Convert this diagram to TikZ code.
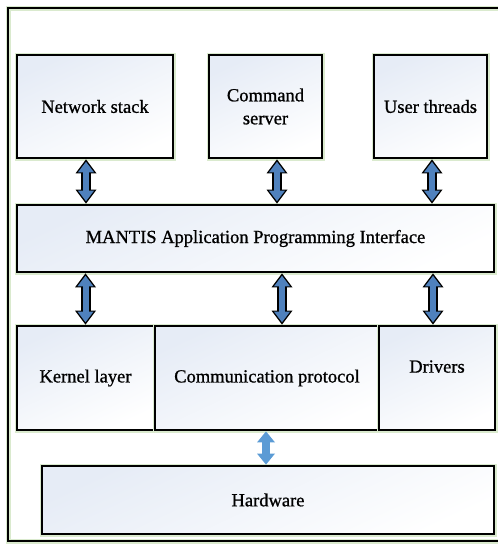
\documentclass[tikz,border=0pt]{standalone}
\usepackage{fontspec}
\setmainfont{Liberation Serif}
\newfontfamily\boxfont{Liberation Serif}[FakeBold=0.9]
\usetikzlibrary{arrows.meta}
\definecolor{boxtop}{RGB}{230,236,246}
\definecolor{arrowblue}{RGB}{79,129,189}
\definecolor{hwblue}{RGB}{91,155,213}
\definecolor{glow}{RGB}{218,234,206}
\begin{document}
\begin{tikzpicture}[x=1pt,y=-1pt,
    layer/.style={draw=black,line width=2.8pt,top color=boxtop,bottom color=white,shading angle=25,
        preaction={draw=glow,line width=5pt},inner sep=0pt,align=center,
        font=\boxfont\fontsize{18.5}{23}\selectfont},
    linkout/.style={draw=black,line width=10pt,
        {Triangle[width=21pt,length=14pt,line width=0pt]}-{Triangle[width=21pt,length=14pt,line width=0pt]}},
    linkin/.style={draw=arrowblue,line width=6pt,shorten <=2.4pt,shorten >=2.4pt,
        {Triangle[width=16pt,length=10.5pt,line width=0pt]}-{Triangle[width=16pt,length=10.5pt,line width=0pt]}},
    hwlink/.style={draw=hwblue,line width=8pt,
        {Triangle[width=18pt,length=11pt,line width=0pt]}-{Triangle[width=18pt,length=11pt,line width=0pt]}}]
            \useasboundingbox (0,0) rectangle (498,544);
            \clip (0,0) rectangle (498,544);
            \draw[glow,line width=5pt] (8,8) rectangle (520,541);
            \draw[line width=2.8pt] (8,8) rectangle (520,541);

            \node[layer,minimum width=156,minimum height=103] (ns) at (95,106.5) {Network stack};
            \node[layer,minimum width=113,minimum height=103] (cs) at (265.5,106.5) {Command\\server};
            \node[layer,minimum width=113,minimum height=103] (ut) at (430.5,106.5) {User threads};

            \node[layer,minimum width=477,minimum height=67] (api) at (255.5,238.5) {MANTIS Application Programming Interface};

            \node[layer,minimum width=137,minimum height=104] (kl) at (85.5,378) {Kernel layer};
            \node[layer,minimum width=224,minimum height=104] (cp) at (267,378) {Communication protocol};
            \node[layer,minimum width=116,minimum height=104] (dr) at (437,378) {Drivers\\[0pt]\phantom{x}};

            \node[layer,minimum width=452,minimum height=68] (hw) at (268,500) {Hardware};

            \draw[linkout] ([xshift=-9pt]ns.south) -- ([xshift=-9pt]ns.south |- api.north);
            \draw[linkin] ([xshift=-9pt]ns.south) -- ([xshift=-9pt]ns.south |- api.north);
            \draw[linkout] ([xshift=11.5pt]cs.south) -- ([xshift=11.5pt]cs.south |- api.north);
            \draw[linkin] ([xshift=11.5pt]cs.south) -- ([xshift=11.5pt]cs.south |- api.north);
            \draw[linkout] ([xshift=1.5pt]ut.south) -- ([xshift=1.5pt]ut.south |- api.north);
            \draw[linkin] ([xshift=1.5pt]ut.south) -- ([xshift=1.5pt]ut.south |- api.north);

            \draw[linkout] (kl.north |- api.south) -- (kl.north);
            \draw[linkin] (kl.north |- api.south) -- (kl.north);
            \draw[linkout] ([xshift=15pt]cp.north |- api.south) -- ([xshift=15pt]cp.north);
            \draw[linkin] ([xshift=15pt]cp.north |- api.south) -- ([xshift=15pt]cp.north);
            \draw[linkout] ([xshift=-4pt]dr.north |- api.south) -- ([xshift=-4pt]dr.north);
            \draw[linkin] ([xshift=-4pt]dr.north |- api.south) -- ([xshift=-4pt]dr.north);

            \draw[hwlink] ([xshift=-1pt]cp.south) -- ([xshift=-1pt]cp.south |- hw.north);
        \end{tikzpicture}
\end{document}
